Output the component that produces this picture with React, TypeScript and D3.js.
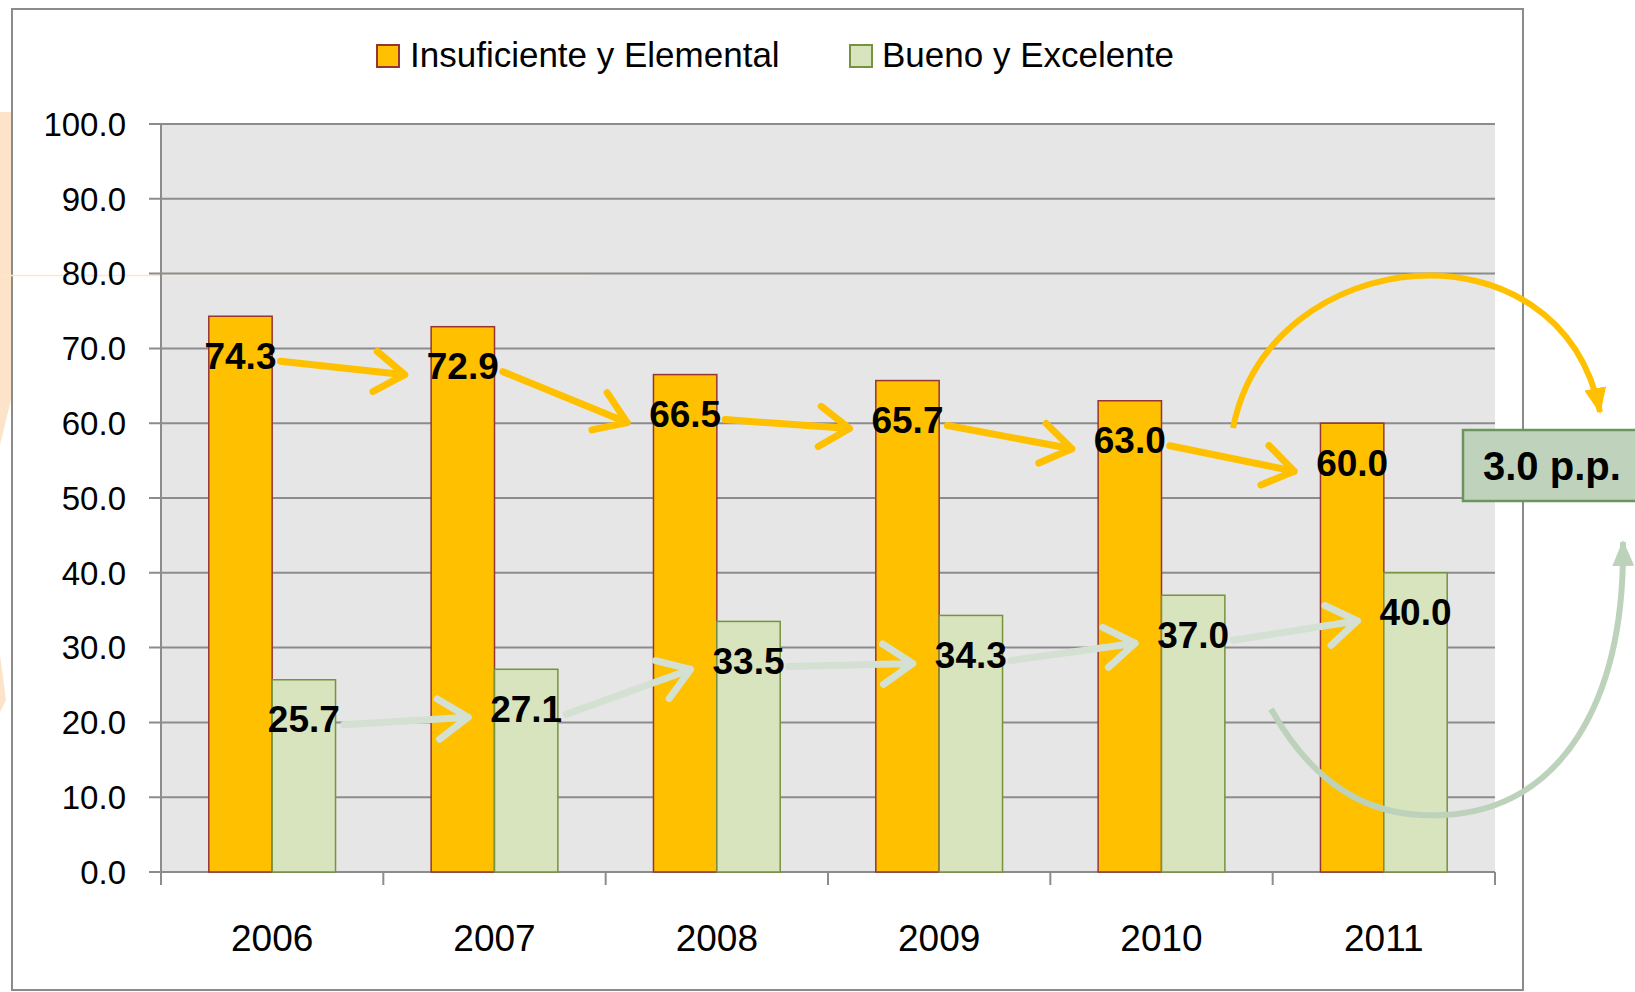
import React from "react";
import * as d3 from "d3";

// data
const years = ["2006", "2007", "2008", "2009", "2010", "2011"];
const insuficiente = [74.3, 72.9, 66.5, 65.7, 63.0, 60.0];
const bueno = [25.7, 27.1, 33.5, 34.3, 37.0, 40.0];
const yTicks = [0, 10, 20, 30, 40, 50, 60, 70, 80, 90, 100];
const seriesNames = ["Insuficiente y Elemental", "Bueno y Excelente"];
const changeLabel = "3.0 p.p.";

const W = 1635;
const H = 992;
const plot = { left: 161, right: 1495, top: 124, bottom: 872 };

const ORANGE = "#ffc000";
const ORANGE_EDGE = "#943634";
const GREEN = "#d7e4bd";
const GREEN_EDGE = "#77933c";
const GRID = "#8c8c8c";
const FONT = "'Liberation Sans', Arial, sans-serif";

const labelSize = 37;

const chevron = (x1: number, y1: number, x2: number, y2: number) => {
  const a = Math.atan2(y2 - y1, x2 - x1);
  const L = 36;
  const t = (34 * Math.PI) / 180;
  const ax = x2 - L * Math.cos(a - t);
  const ay = y2 - L * Math.sin(a - t);
  const bx = x2 - L * Math.cos(a + t);
  const by = y2 - L * Math.sin(a + t);
  return `M${x1},${y1}L${x2},${y2}M${ax},${ay}L${x2},${y2}L${bx},${by}`;
};

const App = () => {
  const y = d3.scaleLinear().domain([0, 100]).range([plot.bottom, plot.top]);
  const x0 = d3
    .scaleBand()
    .domain(years)
    .range([plot.left, plot.right])
    .paddingInner(0.43)
    .paddingOuter(0.215);
  const x1 = d3
    .scaleBand()
    .domain(["a", "b"])
    .range([0, x0.bandwidth()]);
  const bw = x1.bandwidth();
  const step = (plot.right - plot.left) / years.length;

  const series = [
    { key: "a", values: insuficiente, fill: ORANGE, edge: ORANGE_EDGE, arrow: ORANGE },
    { key: "b", values: bueno, fill: GREEN, edge: GREEN_EDGE, arrow: "#d3e0d2" },
  ];

  const labelPos = (key: string, v: number, i: number) => {
    const cx = (x0(years[i]) as number) + (x1(key) as number) + bw / 2;
    const cy = y(v) + 39;
    return { cx, cy };
  };
  const hw = (s: string) => (s.length - 0.5) * 0.556 * labelSize * 0.5;

  return (
    <svg
      width={W}
      height={H}
      style={{ position: "absolute", left: 0, top: 0, display: "block", background: "#fff" }}
      fontFamily={FONT}
    >
      <defs>
        <marker id="headO" viewBox="0 0 26 22" refX="24" refY="11" markerWidth="26" markerHeight="22" markerUnits="userSpaceOnUse" orient="auto">
          <path d="M0,0L26,11L0,22Z" fill={ORANGE} />
        </marker>
        <marker id="headG" viewBox="0 0 26 22" refX="24" refY="11" markerWidth="26" markerHeight="22" markerUnits="userSpaceOnUse" orient="auto">
          <path d="M0,0L26,11L0,22Z" fill="#bcd2ba" />
        </marker>
      </defs>

      {/* faint background shape peeking from behind the slide */}
      <path d="M0,112L11,112L11,400L0,445Z" fill="#fde4c9" />
      <path d="M0,655L6,700L0,712Z" fill="#fde4c9" />

      {/* chart frame */}
      <rect x={12} y={9} width={1511} height={981} fill="#fff" stroke="#8b8b8b" strokeWidth={2} />

      {/* plot area */}
      <rect x={plot.left} y={plot.top} width={plot.right - plot.left} height={plot.bottom - plot.top} fill="#e6e6e6" />
      <line x1={0} x2={590} y1={y(80) + 2} y2={y(80) + 2} stroke="#fbe6d0" strokeWidth={1.5} />

      {yTicks.map((t) => (
        <g key={t}>
          <line x1={plot.left - 12} x2={plot.right} y1={y(t)} y2={y(t)} stroke={GRID} strokeWidth={2} />
          <text x={126} y={y(t)} dy="0.36em" textAnchor="end" fontSize={33} fill="#000">
            {t.toFixed(1)}
          </text>
        </g>
      ))}
      <line x1={plot.left} x2={plot.left} y1={plot.top} y2={plot.bottom} stroke={GRID} strokeWidth={2} />
      {d3.range(years.length + 1).map((i) => (
        <line key={i} x1={plot.left + i * step} x2={plot.left + i * step} y1={plot.bottom} y2={plot.bottom + 13} stroke={GRID} strokeWidth={2} />
      ))}
      {years.map((yr) => (
        <text key={yr} x={(x0(yr) as number) + x0.bandwidth() / 2} y={951} textAnchor="middle" fontSize={37} fill="#000">
          {yr}
        </text>
      ))}

      {/* bars */}
      {series.map((s) =>
        s.values.map((v, i) => (
          <rect
            key={s.key + i}
            x={(x0(years[i]) as number) + (x1(s.key) as number)}
            y={y(v)}
            width={bw}
            height={y(0) - y(v)}
            fill={s.fill}
            stroke={s.edge}
            strokeWidth={1.5}
          />
        ))
      )}

      {/* data labels */}
      {series.map((s) =>
        s.values.map((v, i) => {
          const p = labelPos(s.key, v, i);
          return (
            <text key={"l" + s.key + i} x={p.cx} y={p.cy} dy="0.36em" textAnchor="middle" fontSize={labelSize} fontWeight="bold" fill="#000">
              {v.toFixed(1)}
            </text>
          );
        })
      )}

      {/* trend arrows between labels */}
      {series.map((s) =>
        s.values.slice(0, -1).map((v, i) => {
          const a = labelPos(s.key, v, i);
          const b = labelPos(s.key, s.values[i + 1], i + 1);
          const sx = a.cx + hw(v.toFixed(1)) + 4;
          const sy = a.cy + 6;
          const ex = b.cx - hw(s.values[i + 1].toFixed(1)) - 22;
          const ey = b.cy + 9;
          return (
            <path
              key={"a" + s.key + i}
              d={chevron(sx, sy, ex, ey)}
              fill="none"
              stroke={s.arrow}
              strokeWidth={7}
              strokeLinecap="round"
              strokeLinejoin="round"
            />
          );
        })
      )}

      {/* curved change arrows */}
      <path d="M1233,428C1270,242 1560,214 1600,412" fill="none" stroke={ORANGE} strokeWidth={6} markerEnd="url(#headO)" />
      <path d="M1271,709C1322,800 1385,818 1443,815C1562,810 1625,700 1623,542" fill="none" stroke="#bcd2ba" strokeWidth={6} markerEnd="url(#headG)" />

      {/* change box */}
      <rect x={1463} y={430} width={200} height={71} fill="#bfd3bc" stroke="#6b955f" strokeWidth={2.5} />
      <text x={1483} y={480} fontSize={40} fontWeight="bold" fill="#000">
        {changeLabel}
      </text>

      {/* legend */}
      <rect x={377} y={45} width={22} height={22} fill={ORANGE} stroke={ORANGE_EDGE} strokeWidth={2} />
      <text x={410} y={67} fontSize={35} fill="#000">
        {seriesNames[0]}
      </text>
      <rect x={850} y={45} width={22} height={22} fill={GREEN} stroke={GREEN_EDGE} strokeWidth={2} />
      <text x={882} y={67} fontSize={35} fill="#000">
        {seriesNames[1]}
      </text>
    </svg>
  );
};

export default App;
